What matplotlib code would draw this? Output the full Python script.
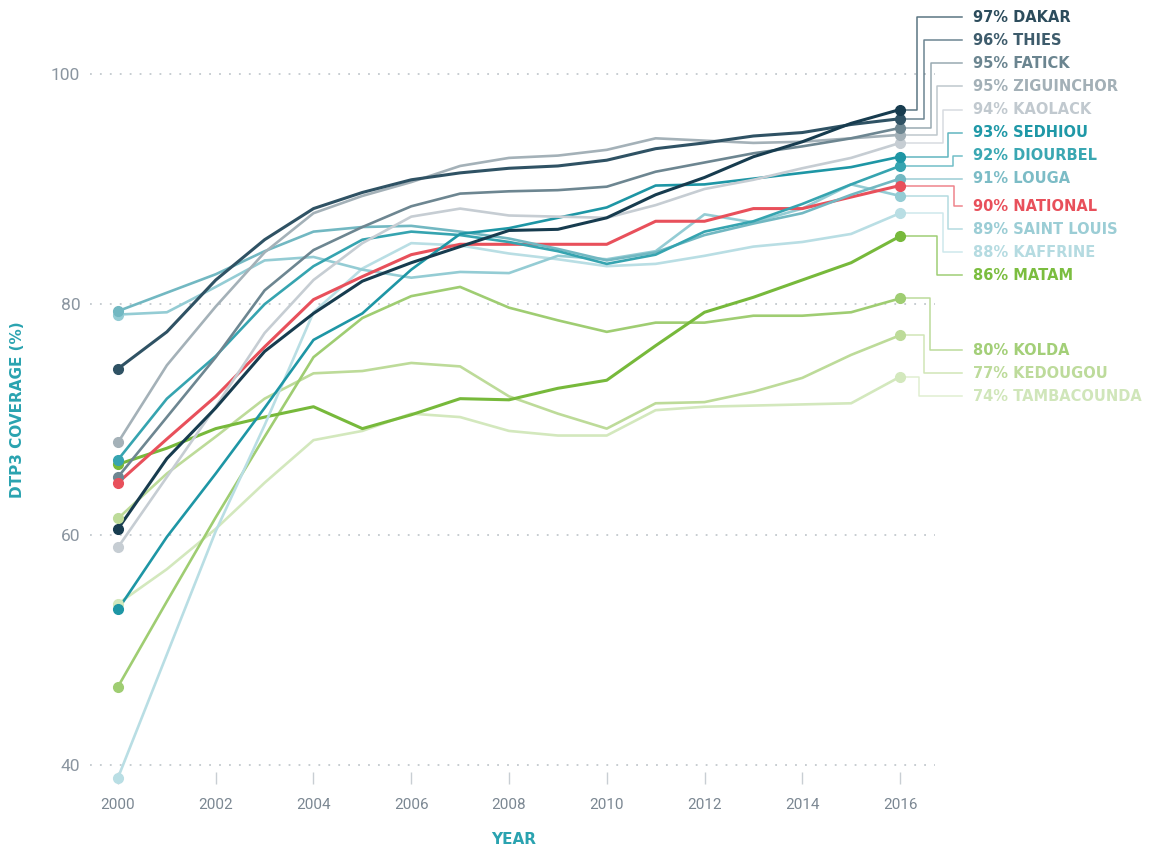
import matplotlib
matplotlib.use("Agg")
import matplotlib.pyplot as plt

# DTP3 coverage by region, Senegal 2000-2016
years = list(range(2000, 2017))

dakar       = [60.5, 66.6, 71.0, 75.9, 79.2, 82.0, 83.6, 85.0, 86.4, 86.5, 87.5, 89.5, 91.0, 92.8, 94.1, 95.7, 96.9]
thies       = [74.4, 77.6, 82.1, 85.6, 88.3, 89.7, 90.8, 91.4, 91.8, 92.0, 92.5, 93.5, 94.0, 94.6, 94.9, 95.6, 96.1]
fatick      = [65.0, 70.2, 75.4, 81.2, 84.7, 86.7, 88.5, 89.6, 89.8, 89.9, 90.2, 91.5, 92.3, 93.1, 93.7, 94.4, 95.3]
ziguinchor  = [68.0, 74.7, 79.8, 84.5, 87.9, 89.4, 90.6, 92.0, 92.7, 92.9, 93.4, 94.4, 94.2, 94.0, 94.1, 94.4, 94.7]
kaolack     = [58.9, 65.0, 71.1, 77.5, 82.1, 85.3, 87.6, 88.3, 87.7, 87.6, 87.5, 88.6, 90.0, 90.8, 91.8, 92.7, 94.0]
sedhiou     = [53.5, 59.8, 65.3, 71.0, 76.9, 79.2, 83.0, 86.1, 86.6, 87.5, 88.4, 90.3, 90.4, 90.9, 91.4, 91.9, 92.8]
diourbel    = [66.5, 71.8, 75.5, 80.0, 83.3, 85.6, 86.3, 86.0, 85.4, 84.6, 83.5, 84.3, 86.3, 87.2, 88.7, 90.4, 92.0]
louga       = [79.4, 81.0, 82.6, 84.6, 86.3, 86.7, 86.8, 86.3, 85.7, 84.8, 83.8, 84.5, 86.0, 87.0, 87.9, 89.5, 90.9]
national    = [64.5, 68.3, 72.0, 76.3, 80.4, 82.4, 84.3, 85.2, 85.2, 85.2, 85.2, 87.2, 87.2, 88.3, 88.3, 89.3, 90.3]
saint_louis = [79.1, 79.3, 81.5, 83.8, 84.1, 83.0, 82.3, 82.8, 82.7, 84.2, 83.9, 84.6, 87.8, 87.1, 88.3, 90.4, 89.4]
kaffrine    = [38.9, 49.6, 60.3, 69.5, 79.3, 83.1, 85.3, 85.1, 84.4, 83.9, 83.3, 83.5, 84.2, 85.0, 85.4, 86.1, 87.9]
matam       = [66.1, 67.5, 69.2, 70.2, 71.1, 69.2, 70.4, 71.8, 71.7, 72.7, 73.4, 76.4, 79.3, 80.6, 82.1, 83.6, 85.9]
kolda       = [46.8, 54.2, 61.5, 68.5, 75.4, 78.8, 80.7, 81.5, 79.7, 78.6, 77.6, 78.4, 78.4, 79.0, 79.0, 79.3, 80.5]
kedougou    = [61.4, 65.3, 68.5, 71.8, 74.0, 74.2, 74.9, 74.6, 72.0, 70.5, 69.2, 71.4, 71.5, 72.4, 73.6, 75.6, 77.3]
tambacounda = [54.0, 57.0, 60.5, 64.5, 68.2, 69.0, 70.5, 70.2, 69.0, 68.6, 68.6, 70.8, 71.1, 71.2, 71.3, 71.4, 73.7]

names = ["DAKAR", "THIES", "FATICK", "ZIGUINCHOR", "KAOLACK", "SEDHIOU", "DIOURBEL", "LOUGA",
         "NATIONAL", "SAINT LOUIS", "KAFFRINE", "MATAM", "KOLDA", "KEDOUGOU", "TAMBACOUNDA"]
series = [dakar, thies, fatick, ziguinchor, kaolack, sedhiou, diourbel, louga,
          national, saint_louis, kaffrine, matam, kolda, kedougou, tambacounda]
label_pct = [97, 96, 95, 95, 94, 93, 92, 91, 90, 89, 88, 86, 80, 77, 74]

colors = ["#173c4f", "#2f5264", "#6d8691", "#a4b1b8", "#c6cdd3", "#1e96a5", "#36a4b0", "#72b8c2",
          "#e8505b", "#94ccd4", "#b9dee4", "#77b93b", "#9fcd72", "#bddb99", "#d3e8bd"]
text_colors = ["#2c4c5c", "#3e5c6c", "#6b8590", "#a3b0b7", "#c1c9cf", "#1f98a7", "#3aa7b2", "#7cbcc6",
               "#e8505b", "#9bcdd5", "#b5dbe1", "#7bbd3f", "#a3cf78", "#bddb9b", "#d0e6ba"]

# label layout (y in data units, elbow x in pixels right of the last point)
label_y = [104.9, 102.9, 100.9, 98.9, 96.9, 94.9, 92.9, 90.9,
           88.5, 86.5, 84.5, 82.5, 76.0, 74.0, 72.0]
elbow_px = [17, 24, 31, 37, 43, 48, 53, 58, 54, 48, 43, 37, 30, 24, 19]

px_per_year = 48.875
fig = plt.figure(figsize=(11.49, 8.47), dpi=100)
ax = fig.add_axes([90 / 1149, (847 - 784) / 847, (935 - 90) / 1149, (784 - 70) / 847])
ax.set_xlim(2000 - 28 / px_per_year, 2016 + 35 / px_per_year)
ax.set_ylim(38.35, 100.33)

for s in ax.spines.values():
    s.set_visible(False)

ax.set_yticks([40, 60, 80, 100])
ax.yaxis.grid(True, color="#c3c9ce", linestyle=(0, (1, 4.5)), linewidth=1.3)
ax.set_axisbelow(True)
ax.tick_params(axis="y", length=0, pad=7, labelsize=12.5, labelcolor="#8a95a0")
ax.set_xticks(range(2000, 2017, 2))
ax.tick_params(axis="x", direction="in", length=9, width=1, color="#c8ced3",
               pad=10, labelsize=11, labelcolor="#7b8792")
for lab in ax.get_xticklabels() + ax.get_yticklabels():
    lab.set_fontfamily("Roboto")

order = list(range(len(series)))[::-1]
order.remove(8)
order.append(8)
for i in order:
    vals = series[i]
    lw = 2.2 if i in (0, 1, 8, 11) else 1.9
    ax.plot(years, vals, color=colors[i], lw=lw, zorder=3 + (len(series) - i) * 0.01,
            solid_joinstyle="round")
    ax.plot([years[0], years[-1]], [vals[0], vals[-1]], "o", ms=7, color=colors[i],
            clip_on=False, zorder=4)

# leader lines and labels
x_end = years[-1]
x_line_end = x_end + 62 / px_per_year
x_text = x_end + 73 / px_per_year
for i, vals in enumerate(series):
    ex = x_end + elbow_px[i] / px_per_year
    ax.plot([x_end, ex, ex, x_line_end], [vals[-1], vals[-1], label_y[i], label_y[i]],
            color=colors[i], lw=1.1, alpha=0.7, clip_on=False, zorder=2)
    ax.text(x_text, label_y[i], f"{label_pct[i]}% {names[i]}", color=text_colors[i],
            fontsize=10.5, fontweight="bold", family="DejaVu Sans", va="center", ha="left",
            clip_on=False)

fig.text(18 / 1149, 1 - 410 / 847, "DTP3 COVERAGE (%)", rotation=90, color="#2aa3b0",
         fontsize=11, fontweight="bold", family="DejaVu Sans", ha="center", va="center")
fig.text(514 / 1149, 1 - 839 / 847, "YEAR", color="#2aa3b0", fontsize=11,
         fontweight="bold", family="DejaVu Sans", ha="center", va="center")

fig.savefig("out.png", dpi=100, facecolor="white")
